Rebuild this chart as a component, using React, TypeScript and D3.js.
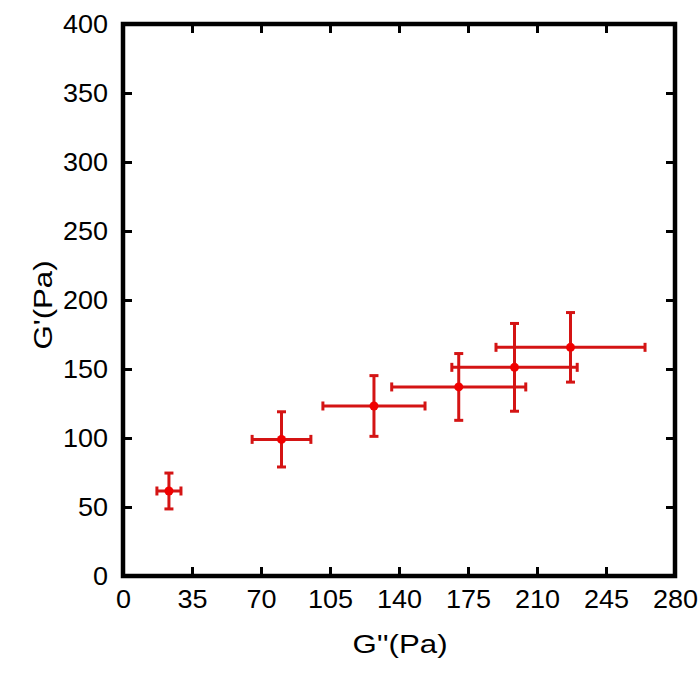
import React, { useEffect, useRef } from "react";
import * as d3 from "d3";

// G'' (x) and G' (y) with standard deviations
const gDoublePrime = [23.3, 80.4, 127.3, 170.3, 198.6, 227.0];
const gDoublePrimeErr = [6.1, 14.9, 25.9, 34.0, 31.8, 37.8];
const gPrime = [61.6, 99.0, 123.2, 137.0, 151.2, 165.7];
const gPrimeErr = [13.0, 20.0, 22.0, 24.2, 31.8, 25.2];

const xTicks = [0, 35, 70, 105, 140, 175, 210, 245, 280];
const yTicks = [0, 50, 100, 150, 200, 250, 300, 350, 400];

const width = 700;
const height = 679;
const margin = { top: 24, right: 25, bottom: 103, left: 123 };

export default function App() {
  const ref = useRef<SVGSVGElement>(null);

  useEffect(() => {
    const svg = d3.select(ref.current);
    svg.selectAll("*").remove();

    const innerW = width - margin.left - margin.right;
    const innerH = height - margin.top - margin.bottom;

    const x = d3.scaleLinear().domain([0, 280]).range([0, innerW]);
    const y = d3.scaleLinear().domain([0, 400]).range([innerH, 0]);

    const g = svg.append("g")
      .attr("transform", "translate(" + margin.left + "," + margin.top + ")");

    const font = "'Liberation Sans', Arial, sans-serif";
    const tickLen = 9;

    // the original text is a little wider than the font, stretch it
    const stretch = (sel: any, k: number) => {
      sel.each(function (this: SVGTextElement) {
        const w = this.getComputedTextLength();
        d3.select(this).attr("textLength", w * k).attr("lengthAdjust", "spacingAndGlyphs");
      });
    };

    // ticks on all four sides, pointing in
    const bottom = g.append("g").attr("transform", "translate(0," + innerH + ")")
      .call(d3.axisBottom(x).tickValues(xTicks).tickSize(-tickLen).tickPadding(14));
    const top = g.append("g")
      .call(d3.axisTop(x).tickValues(xTicks).tickSize(-tickLen).tickFormat(() => ""));
    const left = g.append("g")
      .call(d3.axisLeft(y).tickValues(yTicks).tickSize(-tickLen).tickPadding(15));
    const right = g.append("g").attr("transform", "translate(" + innerW + ",0)")
      .call(d3.axisRight(y).tickValues(yTicks).tickSize(-tickLen).tickFormat(() => ""));

    [bottom, top, left, right].forEach((a) => {
      a.select(".domain").remove();
      a.selectAll(".tick line").attr("stroke", "#000").attr("stroke-width", 3);
      const t = a.selectAll(".tick text")
        .attr("fill", "#000")
        .style("font-family", font)
        .style("font-size", "25px");
      stretch(t, 1.08);
    });

    // frame
    g.append("rect")
      .attr("x", 0).attr("y", 0)
      .attr("width", innerW).attr("height", innerH)
      .attr("fill", "none")
      .attr("stroke", "#000")
      .attr("stroke-width", 4.5);

    // axis titles
    const xt = g.append("text")
      .attr("x", innerW / 2 + 1)
      .attr("y", innerH + 77)
      .attr("text-anchor", "middle")
      .style("font-family", font)
      .style("font-size", "26px")
      .text("G''(Pa)");
    stretch(xt, 1.2);

    const yt = g.append("text")
      .attr("transform", "rotate(-90)")
      .attr("x", -innerH / 2 - 5)
      .attr("y", -71)
      .attr("text-anchor", "middle")
      .style("font-family", font)
      .style("font-size", "26px")
      .text("G'(Pa)");
    stretch(yt, 1.2);

    const data = gDoublePrime.map((v, i) => ({
      x: v, xe: gDoublePrimeErr[i], y: gPrime[i], ye: gPrimeErr[i],
    }));

    const barColor = "#d41414";
    const cap = 4.5;
    const pts = g.append("g");

    data.forEach((d) => {
      const cx = x(d.x), cy = y(d.y);
      const x0 = x(d.x - d.xe), x1 = x(d.x + d.xe);
      const y0 = y(d.y - d.ye), y1 = y(d.y + d.ye);
      const eb = pts.append("g").attr("stroke", barColor).attr("stroke-width", 3);
      eb.append("line").attr("x1", x0).attr("x2", x1).attr("y1", cy).attr("y2", cy);
      eb.append("line").attr("x1", cx).attr("x2", cx).attr("y1", y0).attr("y2", y1);
      eb.append("line").attr("x1", x0).attr("x2", x0).attr("y1", cy - cap).attr("y2", cy + cap);
      eb.append("line").attr("x1", x1).attr("x2", x1).attr("y1", cy - cap).attr("y2", cy + cap);
      eb.append("line").attr("x1", cx - cap).attr("x2", cx + cap).attr("y1", y0).attr("y2", y0);
      eb.append("line").attr("x1", cx - cap).attr("x2", cx + cap).attr("y1", y1).attr("y2", y1);
    });

    pts.selectAll("circle")
      .data(data)
      .enter()
      .append("circle")
      .attr("cx", (d) => x(d.x))
      .attr("cy", (d) => y(d.y))
      .attr("r", 4.5)
      .attr("fill", "#f00000");
  }, []);

  return (
    <svg
      ref={ref}
      width={width}
      height={height}
      style={{ display: "block", position: "absolute", left: 0, top: 0, background: "#fff" }}
    />
  );
}
